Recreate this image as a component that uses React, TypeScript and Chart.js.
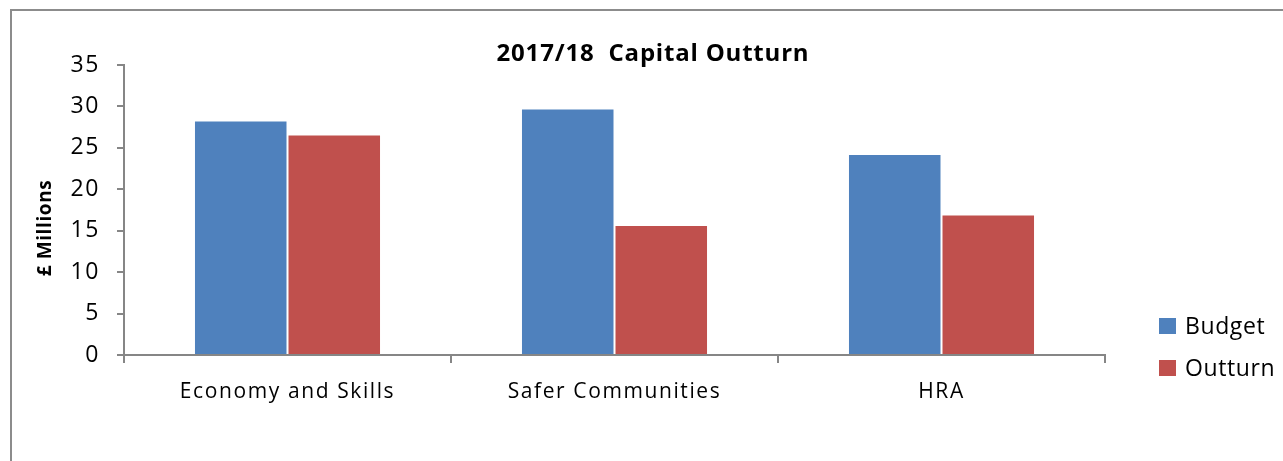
import React, { useEffect, useRef } from "react";
import { Chart, registerables } from "chart.js";

Chart.register(...registerables);

const categories = ["Economy and Skills", "Safer Communities", "HRA"];
const budgetValues = [28.3, 29.75, 24.25];
const outturnValues = [26.6, 15.7, 16.95];
const seriesNames = ["Budget", "Outturn"];
const seriesColors = ["#4F81BD", "#C0504D"];
const yMin = 0;
const yMax = 35;
const yStep = 5;
const chartTitle = "2017/18  Capital Outturn";
const yAxisTitle = "£ Millions";

const FONT = "'Open Sans', 'Noto Sans', sans-serif";

const spacingPlugin = {
  id: "spacing",
  beforeDraw(chart: any) {
    chart.ctx.letterSpacing = "1.6px";
  },
};

const overlayPlugin = {
  id: "overlay",
  afterDraw(chart: any) {
    const ctx = chart.ctx;
    const area = chart.chartArea;
    ctx.save();
    // title
    ctx.fillStyle = "#000";
    ctx.letterSpacing = "0.8px";
    ctx.font = `bold 24px ${FONT}`;
    ctx.textAlign = "center";
    ctx.textBaseline = "middle";
    ctx.fillText(chartTitle, 653, 54);
    // y axis title
    ctx.save();
    ctx.translate(46, 228);
    ctx.rotate(-Math.PI / 2);
    ctx.letterSpacing = "0.6px";
    ctx.font = `bold 19px ${FONT}`;
    ctx.fillText(yAxisTitle, 0, 0);
    ctx.restore();
    // legend
    const lx = area.right + 54;
    const ly0 = 326;
    const gap = 42;
    ctx.letterSpacing = "0.6px";
    ctx.font = `23px ${FONT}`;
    ctx.textAlign = "left";
    chart.data.datasets.forEach((ds: any, i: number) => {
      const cy = ly0 + i * gap;
      ctx.fillStyle = ds.backgroundColor;
      ctx.fillRect(lx, cy - 8, 17, 16);
      ctx.fillStyle = "#000";
      ctx.fillText(ds.label, lx + 26, cy + 1);
    });
    ctx.restore();
    ctx.letterSpacing = "0px";
  },
};

export default function App() {
  const canvasRef = useRef<HTMLCanvasElement | null>(null);

  useEffect(() => {
    if (!canvasRef.current) return;
    const chart = new Chart(canvasRef.current, {
      type: "bar",
      data: {
        labels: categories,
        datasets: [
          {
            label: seriesNames[0],
            data: budgetValues,
            backgroundColor: seriesColors[0],
            borderColor: "rgba(255,255,255,0.5)",
            borderWidth: 1,
            categoryPercentage: 0.572,
            barPercentage: 1,
          },
          {
            label: seriesNames[1],
            data: outturnValues,
            backgroundColor: seriesColors[1],
            borderColor: "rgba(255,255,255,0.5)",
            borderWidth: 1,
            categoryPercentage: 0.572,
            barPercentage: 1,
          },
        ],
      },
      options: {
        animation: false,
        responsive: true,
        maintainAspectRatio: false,
        layout: { padding: { left: 0, right: 178, top: 65, bottom: 0 } },
        plugins: {
          legend: { display: false },
          title: { display: false },
          tooltip: { enabled: false },
        },
        scales: {
          x: {
            afterFit(scale: any) {
              scale.height = 106;
            },
            grid: {
              offset: true,
              drawOnChartArea: false,
              drawTicks: true,
              tickLength: 8,
              color: "#868686",
              lineWidth: 2,
            },
            border: { color: "#868686", width: 2 },
            ticks: {
              color: "#000",
              font: { family: FONT, size: 21 },
              padding: 16,
              maxRotation: 0,
            },
          },
          y: {
            min: yMin,
            max: yMax,
            afterFit(scale: any) {
              scale.width = 124;
            },
            grid: {
              drawOnChartArea: false,
              drawTicks: true,
              tickLength: 7,
              color: "#868686",
              lineWidth: 2,
            },
            border: { color: "#868686", width: 2 },
            ticks: {
              stepSize: yStep,
              color: "#000",
              font: { family: FONT, size: 23 },
              padding: 17,
            },
          },
        },
      },
      plugins: [spacingPlugin, overlayPlugin],
    });
    return () => chart.destroy();
  }, []);

  return (
    <div
      style={{
        position: "fixed",
        left: 0,
        top: 0,
        width: 1283,
        height: 461,
        overflow: "hidden",
        background: "#fff",
      }}
    >
      <div
        style={{
          position: "absolute",
          left: 10,
          top: 9,
          width: 1400,
          height: 600,
          border: "2px solid #8c8c8c",
        }}
      />
      <div style={{ position: "absolute", left: 0, top: 0, width: 1283, height: 461 }}>
        <canvas ref={canvasRef} />
      </div>
    </div>
  );
}
